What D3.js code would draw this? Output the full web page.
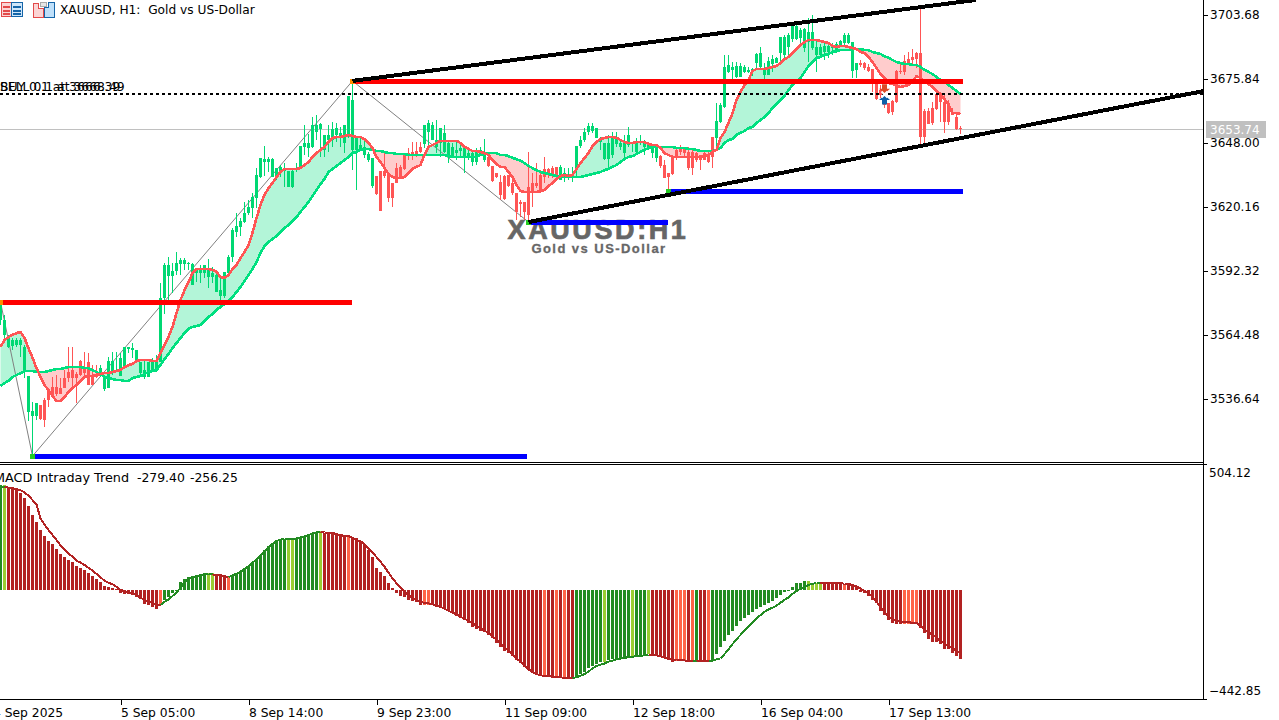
<!DOCTYPE html>
<html>
<head>
<meta charset="utf-8">
<script src="https://cdnjs.cloudflare.com/ajax/libs/d3/7.8.5/d3.min.js"></script>
<style>
html,body{margin:0;padding:0;background:#fff;overflow:hidden}
svg{display:block}
text{font-family:"DejaVu Sans",sans-serif;font-size:12.2px;fill:#000}
</style>
</head>
<body>
<svg id="c" width="1279" height="720"></svg>
<script>
const priceTicks=[3703.68,3675.84,3648.00,3620.16,3592.32,3564.48,3536.64];
const macdTicks=[504.12,-442.85];
const timeTickBars=[-2,30,62,94,126,158,190,222];
const timeTickLabels=["4 Sep 2025","5 Sep 05:00","8 Sep 14:00","9 Sep 23:00","11 Sep 09:00","12 Sep 18:00","16 Sep 04:00","17 Sep 13:00"];

const highs=[3578.8,3573.2,3564.5,3563.2,3563.2,3563.2,3560.1,3546.6,3535.3,3534.9,
3534.0,3537.1,3541.4,3546.2,3547.1,3545.8,3549.2,3559.3,3559.3,3548.4,
3553.6,3557.1,3556.7,3551.4,3551.4,3551.4,3546.6,3554.9,3557.1,3557.1,
3556.7,3559.3,3559.3,3561.0,3558.0,3552.7,3553.6,3552.7,3554.5,3555.8,
3587.1,3595.8,3598.4,3595.8,3600.6,3598.0,3598.0,3596.2,3595.8,3593.6,
3594.9,3594.9,3597.5,3594.1,3592.8,3589.3,3591.9,3599.3,3611.0,3617.5,
3615.4,3622.3,3623.2,3626.2,3637.1,3641.5,3646.7,3641.9,3641.5,3637.1,
3638.4,3639.3,3635.8,3637.1,3639.3,3646.7,3655.8,3651.9,3659.3,3660.2,
3656.7,3651.5,3655.8,3657.1,3656.7,3655.0,3655.8,3668.4,3675.0,3650.6,
3650.2,3650.2,3644.1,3641.5,3633.6,3635.8,3643.6,3634.5,3630.6,3639.3,
3638.4,3643.2,3645.8,3648.4,3648.4,3648.4,3655.8,3658.0,3657.1,3658.0,
3654.5,3655.8,3648.4,3648.0,3648.4,3648.4,3647.1,3645.8,3645.0,3645.8,
3646.3,3649.7,3642.8,3638.0,3634.9,3634.1,3634.1,3634.1,3634.1,3626.2,
3623.2,3622.3,3644.1,3634.9,3639.3,3636.2,3641.9,3637.1,3638.0,3637.6,
3638.4,3637.1,3637.1,3637.6,3646.7,3651.0,3654.5,3656.7,3656.7,3654.5,
3650.6,3648.0,3651.5,3652.8,3652.8,3649.3,3651.5,3655.0,3648.4,3650.2,
3651.5,3649.3,3648.4,3646.3,3646.3,3642.8,3640.6,3634.9,3642.8,3645.8,
3647.1,3645.8,3646.3,3645.0,3644.1,3642.8,3645.0,3645.0,3650.6,3665.4,
3665.4,3686.3,3686.3,3683.2,3683.2,3682.8,3681.9,3681.1,3680.6,3687.1,
3689.8,3682.8,3685.4,3686.3,3685.4,3694.1,3695.0,3695.8,3698.9,3699.3,
3698.0,3698.0,3702.4,3703.7,3692.8,3691.1,3691.5,3691.1,3691.5,3691.9,
3692.8,3695.8,3695.8,3691.9,3682.8,3684.1,3683.2,3682.4,3680.2,3673.7,
3673.2,3668.9,3665.4,3666.7,3679.8,3682.8,3686.3,3687.6,3688.9,3687.6,
3707.2,3662.8,3663.2,3665.8,3670.2,3670.2,3668.9,3666.7,3663.2,3661.0,
3655.4];

const lows=[3568.8,3562.3,3558.8,3558.0,3559.3,3554.9,3545.8,3527.1,3511.8,3527.5,
3527.5,3524.5,3533.2,3538.4,3537.9,3538.8,3541.4,3544.0,3542.3,3534.9,
3546.6,3546.6,3542.7,3542.7,3545.8,3546.2,3540.1,3541.4,3547.1,3548.4,
3546.6,3550.5,3556.7,3554.5,3552.7,3546.6,3545.3,3546.2,3548.4,3548.4,
3552.7,3573.6,3579.7,3582.7,3590.6,3590.6,3592.8,3592.8,3586.2,3587.5,
3587.1,3589.3,3584.9,3587.1,3583.2,3579.7,3580.6,3589.7,3596.2,3607.1,
3607.5,3613.2,3616.7,3615.4,3619.7,3632.8,3633.6,3635.4,3633.2,3631.9,
3633.2,3628.9,3628.9,3628.4,3635.4,3637.1,3642.8,3641.9,3645.8,3649.3,
3641.9,3641.9,3644.1,3646.3,3648.4,3646.3,3643.6,3650.2,3636.2,3627.6,
3645.0,3641.5,3639.7,3628.4,3625.4,3618.4,3632.8,3622.3,3620.2,3630.6,
3632.8,3636.2,3640.6,3640.6,3641.9,3643.6,3645.8,3646.3,3649.3,3643.6,
3641.9,3643.6,3639.3,3641.5,3640.6,3641.5,3634.9,3640.6,3638.0,3638.4,
3642.8,3639.7,3637.6,3631.0,3632.8,3623.2,3623.2,3628.9,3625.4,3614.5,
3615.8,3614.5,3613.6,3620.2,3628.4,3626.2,3630.6,3632.8,3632.8,3632.8,
3631.9,3631.0,3631.9,3631.0,3633.2,3645.8,3648.4,3651.5,3652.4,3650.2,
3645.0,3640.6,3637.1,3641.5,3646.3,3645.0,3641.5,3646.3,3644.1,3643.6,
3647.1,3642.8,3645.0,3641.5,3639.7,3637.1,3632.8,3627.1,3634.1,3640.6,
3642.8,3641.5,3636.2,3634.1,3639.7,3636.2,3640.6,3639.3,3637.1,3646.3,
3656.7,3663.2,3678.4,3675.4,3676.3,3676.7,3678.4,3678.4,3677.1,3680.6,
3680.6,3675.4,3677.6,3678.9,3682.8,3683.2,3684.1,3685.8,3691.9,3692.8,
3690.6,3687.6,3683.2,3688.4,3678.9,3685.4,3684.1,3685.0,3686.3,3687.1,
3689.8,3690.6,3691.1,3676.3,3676.3,3681.1,3679.8,3678.9,3670.2,3666.7,
3667.6,3663.2,3660.6,3660.2,3665.4,3678.0,3677.6,3682.4,3682.4,3680.6,
3647.1,3648.0,3656.3,3655.8,3662.4,3657.1,3652.4,3655.8,3660.2,3653.7,
3651.9];

const bodyTops=[3578.4,3571.0,3563.2,3562.3,3562.3,3562.3,3559.3,3546.6,3531.4,3534.9,
3534.0,3536.2,3540.5,3541.8,3541.8,3541.4,3545.8,3548.4,3549.2,3547.5,
3553.2,3550.1,3552.7,3546.2,3547.1,3550.1,3546.6,3553.2,3553.2,3549.2,
3554.5,3559.3,3559.3,3558.8,3558.0,3552.7,3549.2,3552.7,3552.7,3553.6,
3580.6,3594.9,3594.9,3592.3,3595.8,3597.1,3597.1,3595.8,3595.4,3593.6,
3593.2,3594.9,3593.6,3591.4,3590.6,3584.0,3591.9,3598.4,3610.2,3611.9,
3614.1,3617.5,3620.2,3624.5,3634.1,3641.5,3641.0,3641.0,3641.0,3637.1,
3637.6,3636.7,3635.8,3635.8,3637.1,3646.7,3648.0,3648.0,3655.8,3655.8,
3656.3,3651.5,3651.5,3654.1,3654.5,3652.4,3655.8,3668.4,3666.7,3650.6,
3647.1,3646.3,3643.2,3641.5,3633.6,3635.8,3635.8,3634.5,3630.6,3637.1,
3637.6,3643.2,3643.6,3644.1,3644.5,3646.3,3655.8,3656.7,3655.8,3649.3,
3654.5,3652.4,3648.0,3646.3,3645.0,3645.8,3645.8,3643.6,3643.6,3645.0,
3645.0,3642.8,3641.9,3638.0,3634.9,3631.0,3633.6,3634.1,3630.6,3626.2,
3622.3,3622.3,3628.9,3630.6,3630.6,3634.1,3636.7,3636.7,3637.1,3637.6,
3637.6,3634.9,3634.1,3634.1,3646.7,3649.3,3652.8,3655.4,3655.4,3654.5,
3650.2,3648.0,3648.0,3650.6,3650.6,3648.0,3648.4,3651.5,3648.4,3648.4,
3648.4,3648.9,3648.0,3646.3,3646.3,3642.3,3638.4,3634.9,3641.9,3645.0,
3645.8,3645.4,3644.1,3644.1,3643.6,3642.8,3643.6,3642.8,3650.6,3657.6,
3664.5,3681.1,3681.9,3681.1,3681.5,3681.5,3681.1,3679.8,3680.2,3686.7,
3687.1,3680.6,3683.7,3684.5,3685.0,3694.1,3694.1,3695.0,3698.9,3698.9,
3697.2,3697.6,3696.3,3696.3,3689.8,3689.8,3690.2,3690.2,3690.2,3691.1,
3692.4,3695.0,3695.0,3691.9,3682.8,3682.8,3682.8,3681.1,3680.2,3673.7,
3671.0,3665.4,3665.4,3666.3,3679.3,3679.3,3683.7,3684.5,3685.4,3687.1,
3687.1,3661.9,3661.9,3663.2,3669.3,3669.7,3665.8,3665.4,3661.0,3659.3,
3654.5];

const bodyBottoms=[3571.0,3564.5,3559.3,3559.7,3560.1,3560.1,3548.4,3531.0,3529.2,3529.2,
3527.9,3527.5,3536.2,3538.4,3538.8,3538.8,3541.4,3545.8,3545.8,3545.8,
3547.1,3547.9,3542.7,3542.7,3546.2,3548.4,3541.0,3541.4,3548.4,3548.4,
3546.6,3550.5,3558.4,3558.0,3552.7,3547.9,3546.2,3546.2,3548.4,3549.2,
3552.7,3580.6,3590.1,3590.1,3592.3,3595.4,3595.4,3595.4,3586.2,3591.4,
3591.4,3591.4,3589.7,3589.7,3583.2,3581.4,3581.4,3591.4,3598.4,3609.3,
3611.5,3613.6,3617.5,3619.7,3624.1,3633.2,3639.7,3639.7,3633.2,3633.6,
3635.4,3635.8,3628.9,3628.9,3636.2,3637.6,3646.3,3645.8,3646.3,3652.8,
3654.1,3645.0,3649.3,3649.3,3651.5,3650.2,3648.0,3651.5,3645.0,3645.0,
3645.4,3642.8,3640.6,3629.3,3625.8,3618.4,3633.6,3624.1,3624.1,3630.6,
3632.8,3636.7,3642.8,3642.8,3642.8,3644.1,3647.6,3652.8,3649.3,3646.3,
3648.0,3644.1,3642.8,3641.9,3643.6,3644.5,3641.9,3641.9,3639.7,3639.7,
3643.2,3640.6,3638.0,3631.5,3633.2,3625.4,3623.6,3629.3,3626.2,3618.0,
3621.5,3618.0,3616.7,3626.7,3629.3,3626.7,3633.2,3634.1,3634.1,3634.1,
3631.9,3632.8,3632.8,3633.2,3636.2,3646.7,3649.3,3652.8,3653.2,3650.2,
3648.4,3641.0,3641.0,3642.8,3647.6,3646.3,3643.6,3647.1,3647.6,3644.1,
3648.0,3646.3,3646.3,3643.6,3641.5,3638.0,3632.8,3633.2,3634.5,3641.9,
3644.1,3643.6,3637.1,3637.1,3640.6,3640.6,3640.6,3639.7,3641.9,3650.2,
3657.1,3663.7,3678.9,3679.8,3676.7,3676.7,3678.9,3678.9,3679.3,3682.8,
3681.1,3677.6,3677.6,3682.4,3682.8,3687.1,3686.3,3689.8,3693.2,3693.2,
3693.7,3689.3,3691.9,3689.3,3686.3,3686.3,3687.6,3687.6,3689.3,3688.4,
3690.6,3691.5,3691.5,3679.3,3679.8,3681.9,3680.6,3679.3,3674.1,3667.1,
3668.9,3664.5,3661.0,3661.5,3665.8,3678.9,3678.9,3682.8,3684.1,3684.5,
3650.6,3650.6,3656.3,3656.7,3662.8,3665.8,3657.1,3657.1,3660.2,3654.1,
3654.1];

const fastMA=[3559.3,3562.3,3563.6,3564.5,3565.3,3565.8,3563.2,3558.8,3554.5,3550.1,
3546.2,3542.7,3540.5,3537.9,3535.8,3535.8,3537.5,3539.7,3541.4,3542.7,
3544.5,3546.2,3546.6,3546.6,3547.1,3547.5,3547.9,3547.9,3548.4,3548.8,
3549.2,3550.5,3551.4,3551.9,3553.2,3553.6,3553.6,3553.6,3553.2,3553.2,
3556.7,3560.1,3563.6,3568.0,3574.0,3579.7,3584.0,3587.5,3591.4,3593.2,
3593.2,3593.2,3593.2,3592.8,3591.9,3589.7,3589.3,3590.6,3593.2,3594.9,
3598.0,3600.6,3603.6,3608.9,3615.4,3621.0,3625.4,3628.4,3630.6,3633.2,
3635.4,3636.7,3636.7,3636.7,3636.7,3637.1,3638.4,3639.7,3641.9,3643.6,
3645.0,3646.3,3648.4,3650.2,3650.6,3650.6,3651.0,3651.5,3651.0,3650.6,
3650.6,3649.7,3648.0,3645.8,3641.9,3639.7,3637.1,3634.5,3633.2,3632.8,
3632.8,3633.2,3634.9,3636.7,3637.6,3638.4,3642.8,3646.3,3647.1,3648.0,
3648.9,3648.9,3648.9,3648.9,3648.9,3648.0,3646.3,3645.4,3644.5,3644.5,
3644.1,3643.6,3642.8,3640.6,3638.9,3637.6,3637.6,3635.4,3633.2,3629.7,
3627.1,3626.7,3626.7,3626.7,3626.7,3627.1,3627.6,3629.3,3630.6,3632.3,
3633.6,3634.1,3633.6,3634.1,3636.7,3639.3,3641.5,3643.6,3646.7,3648.4,
3649.7,3650.2,3650.6,3650.6,3650.2,3649.3,3648.4,3648.0,3648.0,3648.4,
3648.4,3648.4,3647.6,3647.1,3647.1,3645.8,3643.6,3642.8,3641.9,3641.9,
3641.9,3641.9,3641.9,3641.9,3641.9,3641.9,3642.3,3642.8,3644.1,3645.0,
3650.2,3652.8,3656.7,3661.0,3666.7,3670.2,3673.2,3675.4,3679.3,3680.2,
3680.2,3680.2,3680.6,3681.1,3681.5,3682.8,3684.5,3685.4,3687.1,3688.9,
3690.6,3691.9,3692.8,3692.8,3692.8,3692.4,3691.9,3691.5,3690.2,3689.8,
3690.2,3690.2,3689.8,3689.3,3688.9,3687.6,3687.1,3685.4,3683.2,3680.6,
3678.0,3676.3,3674.1,3673.7,3672.8,3672.4,3672.8,3673.2,3674.5,3677.1,
3676.3,3674.5,3673.7,3672.4,3670.6,3668.9,3667.1,3664.5,3661.0,3661.0,
3660.6];

const slowMA=[3542.3,3543.6,3544.5,3546.2,3547.1,3547.9,3548.8,3548.8,3548.8,3548.4,
3548.4,3548.4,3548.8,3549.2,3549.7,3549.7,3550.1,3550.5,3550.5,3550.5,
3550.5,3550.1,3550.1,3549.2,3548.4,3547.5,3546.2,3545.8,3545.3,3544.9,
3544.9,3544.5,3544.5,3545.8,3546.2,3546.6,3547.5,3548.4,3548.8,3549.2,
3551.4,3554.0,3556.2,3558.8,3561.0,3563.2,3565.3,3567.1,3568.0,3568.4,
3568.8,3570.6,3572.3,3573.6,3575.4,3576.7,3578.0,3579.3,3581.0,3583.2,
3585.4,3588.0,3590.6,3593.2,3596.2,3600.1,3603.2,3604.9,3606.2,3607.5,
3609.3,3611.0,3612.3,3614.1,3615.8,3618.0,3620.2,3622.3,3625.0,3627.6,
3630.2,3632.3,3635.4,3636.7,3638.0,3639.3,3640.6,3641.9,3643.6,3644.1,
3645.0,3645.4,3645.4,3645.0,3644.5,3644.5,3644.1,3643.6,3643.6,3643.2,
3643.2,3643.2,3642.8,3642.8,3642.8,3642.8,3642.8,3642.8,3642.8,3642.8,
3642.8,3642.8,3642.3,3641.9,3641.9,3641.9,3641.9,3641.9,3641.9,3641.9,
3642.8,3643.2,3643.6,3643.6,3643.6,3642.8,3642.8,3642.3,3641.5,3641.0,
3640.2,3639.3,3638.0,3637.1,3636.2,3635.4,3634.9,3634.5,3634.1,3633.6,
3633.6,3633.2,3633.2,3633.2,3633.2,3633.2,3633.6,3634.1,3634.5,3634.9,
3635.4,3636.2,3636.7,3637.6,3638.4,3639.7,3641.0,3641.9,3642.3,3643.2,
3644.1,3645.0,3645.8,3646.3,3646.3,3646.3,3646.3,3646.3,3646.3,3645.8,
3645.8,3645.8,3645.4,3645.4,3645.0,3644.5,3644.5,3644.5,3644.5,3645.0,
3645.8,3648.0,3649.3,3649.7,3651.5,3652.4,3653.2,3654.5,3655.0,3656.7,
3658.0,3659.3,3661.0,3663.2,3665.0,3666.7,3668.4,3671.0,3673.2,3674.5,
3676.3,3678.9,3681.5,3683.2,3685.0,3685.4,3686.3,3686.7,3687.6,3688.0,
3688.4,3688.4,3688.4,3688.9,3688.9,3688.9,3688.4,3688.4,3687.6,3687.1,
3686.7,3685.8,3685.0,3684.1,3683.2,3682.8,3682.4,3682.4,3681.9,3681.9,
3681.1,3679.8,3678.9,3678.0,3676.7,3675.4,3674.5,3673.2,3671.9,3670.6,
3669.3];

const macdHist=[456,456,447,445,439,421,398,363,326,294,
262,236,213,198,177,158,145,132,120,104,
94,85,72,62,48,36,17,12,7,4,
-14,-19,-19,-23,-30,-41,-59,-65,-72,-84,
-65,-43,-29,-12,-3,36,48,56,59,65,
68,72,75,72,65,64,64,55,65,72,
80,94,106,119,130,152,174,193,203,210,
217,222,224,224,227,232,236,242,246,253,
256,250,250,248,243,239,235,230,230,226,
212,195,174,143,96,77,61,32,7,-12,
-25,-32,-43,-48,-54,-64,-64,-64,-67,-72,
-77,-84,-91,-98,-113,-123,-130,-145,-159,-169,
-177,-184,-195,-210,-232,-249,-264,-275,-285,-304,
-319,-336,-348,-359,-365,-369,-376,-379,-381,-382,
-382,-379,-379,-388,-384,-366,-355,-340,-330,-321,
-313,-311,-304,-301,-298,-295,-294,-290,-288,-284,
-282,-282,-279,-282,-284,-290,-297,-304,-313,-308,
-308,-308,-313,-308,-308,-310,-310,-308,-304,-279,
-249,-222,-197,-177,-156,-136,-123,-109,-94,-83,
-72,-65,-58,-46,-36,-22,-10,-3,14,29,
29,38,38,32,32,32,33,33,33,33,
32,26,26,22,14,-9,-14,-26,-43,-55,
-90,-109,-130,-145,-148,-148,-149,-149,-145,-145,
-167,-188,-211,-224,-227,-235,-255,-258,-272,-285,
-298];

const macdLine=[447,447,445,442,439,434,424,410,391,372,
311,285,261,239,217,195,178,159,145,127,
120,109,97,84,70,55,41,32,25,14,
0,-4,-10,-14,-22,-33,-43,-51,-55,-65,
-65,-51,-41,-26,-10,10,33,48,55,61,
65,68,70,68,65,64,61,55,64,71,
80,91,104,119,133,149,167,185,201,213,
219,222,222,222,224,229,233,239,246,250,
252,250,250,248,243,239,235,235,226,217,
213,200,182,165,143,123,101,75,51,29,
12,-7,-22,-33,-43,-51,-56,-58,-62,-65,
-72,-81,-90,-98,-106,-116,-125,-133,-145,-155,
-167,-177,-185,-203,-214,-232,-249,-264,-278,-297,
-311,-329,-345,-355,-365,-369,-374,-375,-376,-378,
-379,-381,-384,-382,-379,-372,-365,-355,-340,-330,
-324,-319,-311,-307,-301,-298,-295,-291,-290,-287,
-285,-284,-282,-282,-284,-287,-294,-300,-303,-304,
-304,-306,-308,-308,-308,-307,-307,-307,-307,-301,
-297,-278,-258,-235,-214,-195,-177,-159,-142,-123,
-109,-94,-84,-77,-68,-55,-43,-32,-17,-4,
6,14,22,28,29,29,30,30,30,29,
29,28,26,22,16,7,-4,-14,-29,-51,
-72,-94,-116,-127,-133,-137,-139,-140,-142,-143,
-155,-174,-181,-195,-206,-222,-232,-243,-253,-264,
-275];

const macdStateRuns=[["G",1],["g",1],["R",38],["r",1],["G",11],["g",2],["R",3],["r",1],["G",14],["g",2],["G",6],["g",1],
["R",6],["r",1],["R",18],["r",2],["R",28],["r",1],["R",2],["r",1],["R",1],["r",1],["R",2],
["G",7],["g",1],["G",6],["g",1],["G",3],["g",1],["R",6],["r",3],["R",1],["r",1],["G",1],["R",2],["r",1],
["G",24],["g",4],["R",5],["r",1],["R",14],["r",4],["R",11]];
const macdStates=macdStateRuns.flatMap(([s,n])=>Array(n).fill(s));

const supportResist=[
 {from:0,to:87.75,price:3578.8,color:"#ff0000"},
 {from:8,to:131.5,price:3511.8,color:"#0000ff"},
 {from:88,to:240.5,price:3675.0,color:"#ff0000"},
 {from:132,to:166.75,price:3613.6,color:"#0000ff"},
 {from:167,to:240.5,price:3627.1,color:"#0000ff"}];
const trendLines=[
 {a:88,pa:3675.0,b:243.75,pb:3710.2},
 {a:132,pa:3613.6,b:300.75,pb:3670.6}];
const zigzagBars=[0,8,88,132];
const zigzagPrices=[3578.8,3511.8,3675.0,3613.6];
const zigzagDots=[{i:0,p:3578.8,c:"#ff8c00"},{i:8,p:3511.8,c:"#22cc22"},{i:88,p:3675.0,c:"#ff8c00"},{i:132,p:3613.6,c:"#22cc22"},{i:167,p:3627.1,c:"#22cc22"}];
const orderPrice=3669.1, lastPrice=3653.74;
const tradeArrows=[{i:221,p:3671.6,dir:-1,c:"#dc4a26"},{i:221,p:3666.7,dir:1,c:"#1060a8"}];
const tradeLabels=["SELL 0.1 at 3668.49","BUY 0.1 at 3666.39"];

const colors={candleUp:"#00d873",candleDn:"#ff5555",fillUp:"#b3f5d8",fillDn:"#ffcccc",fast:"#ff5555",slow:"#00e080",
 G:"#228b22",g:"#9acd32",R:"#b22222",r:"#ff6347"};

const svg=d3.select("#c");
const W=1203;
const x=d3.scaleLinear().domain([0,240]).range([0.5,960.5]);
const yP=d3.scaleLinear().domain([3710.2,3510.1]).range([0,460]);
const yM=d3.scaleLinear().domain([-442.85,504.12]).range([692,474]);

const defs=svg.append("defs");
defs.append("clipPath").attr("id","mainClip").append("rect").attr("x",0).attr("y",0).attr("width",W).attr("height",461);
defs.append("clipPath").attr("id","macdClip").append("rect").attr("x",0).attr("y",465).attr("width",W).attr("height",234);

const main=svg.append("g").attr("clip-path","url(#mainClip)");
const idx=d3.range(highs.length);

// watermark
main.append("text").attr("x",598).attr("y",239).attr("text-anchor","middle")
 .style("font-family","'Liberation Sans',Arial,sans-serif").style("font-weight","bold").style("font-size","27px").style("letter-spacing","2.6px")
 .style("fill","#666").style("stroke","#666").style("stroke-width","0.7px").text("XAUUSD:H1");
main.append("text").attr("x",599).attr("y",253).attr("text-anchor","middle")
 .style("font-family","'Liberation Sans',Arial,sans-serif").style("font-weight","bold").style("font-size","13px").style("letter-spacing","1.45px")
 .style("fill","#666").style("stroke","#666").style("stroke-width","0.3px").text("Gold vs US-Dollar");

// price line
main.append("line").attr("x1",0).attr("x2",W).attr("y1",yP(lastPrice)).attr("y2",yP(lastPrice)).attr("stroke","#c0c0c0").attr("shape-rendering","crispEdges");

// cloud
const areaUp=d3.area().x(i=>x(i)).y0(i=>yP(slowMA[i])).y1(i=>yP(Math.max(fastMA[i],slowMA[i])));
const areaDn=d3.area().x(i=>x(i)).y0(i=>yP(slowMA[i])).y1(i=>yP(Math.min(fastMA[i],slowMA[i])));
main.append("path").attr("d",areaUp(idx)).attr("fill",colors.fillUp);
main.append("path").attr("d",areaDn(idx)).attr("fill",colors.fillDn);

// zigzag
const zz=d3.line().x((d,k)=>x(zigzagBars[k])).y((d,k)=>yP(zigzagPrices[k]));
main.append("path").attr("d",zz(zigzagBars)).attr("fill","none").attr("stroke","#808080").attr("stroke-width",1);

// candles
const cc=i=>fastMA[i]>=slowMA[i]?colors.candleUp:colors.candleDn;
const candles=main.append("g").attr("shape-rendering","crispEdges");
candles.selectAll("rect.w").data(idx).join("rect").attr("class","w")
 .attr("x",i=>x(i)-0.5).attr("width",1).attr("y",i=>yP(highs[i])).attr("height",i=>Math.max(1,yP(lows[i])-yP(highs[i]))).attr("fill",cc);
candles.selectAll("rect.b").data(idx).join("rect").attr("class","b")
 .attr("x",i=>x(i)-1.5).attr("width",3).attr("y",i=>yP(bodyTops[i])).attr("height",i=>Math.max(1,yP(bodyBottoms[i])-yP(bodyTops[i]))).attr("fill",cc);

// MAs
const ln=arr=>d3.line().x(i=>x(i)).y(i=>yP(arr[i]));
main.append("path").attr("d",ln(slowMA)(idx)).attr("fill","none").attr("stroke",colors.slow).attr("stroke-width",2.6).attr("shape-rendering","crispEdges");
main.append("path").attr("d",ln(fastMA)(idx)).attr("fill","none").attr("stroke",colors.fast).attr("stroke-width",2.6).attr("shape-rendering","crispEdges");

// levels
main.selectAll("rect.lvl").data(supportResist).join("rect").attr("class","lvl")
 .attr("x",d=>x(d.from)).attr("width",d=>x(d.to)-x(d.from)).attr("y",d=>Math.round(yP(d.price))-2).attr("height",5).attr("fill",d=>d.color).attr("shape-rendering","crispEdges");

// dots
main.selectAll("rect.dot").data(zigzagDots).join("rect").attr("class","dot")
 .attr("x",d=>x(d.i)-2.5).attr("y",d=>Math.round(yP(d.p))-2).attr("width",5).attr("height",5).attr("fill",d=>d.c).attr("shape-rendering","crispEdges");

// order line
main.append("line").attr("x1",0).attr("x2",W).attr("y1",yP(orderPrice)).attr("y2",yP(orderPrice)).attr("stroke","#000").attr("stroke-width",2).attr("stroke-dasharray","3 3").attr("shape-rendering","crispEdges");

// trend lines
main.selectAll("line.tr").data(trendLines).join("line").attr("class","tr")
 .attr("x1",d=>x(d.a)).attr("y1",d=>yP(d.pa)).attr("x2",d=>x(d.b)).attr("y2",d=>yP(d.pb)).attr("stroke","#000").attr("stroke-width",4).attr("shape-rendering","crispEdges");

// trade arrows
const arrowPath=(d)=>{const X=x(d.i),Y=yP(d.p),s=-d.dir;
 return `M${X-2.5},${Y-4.5*s}H${X+2.5}V${Y}H${X+5.5}L${X},${Y+5*s}L${X-5.5},${Y}H${X-2.5}Z`;};
main.selectAll("path.arr").data(tradeArrows).join("path").attr("class","arr").attr("d",arrowPath).attr("fill",d=>d.c);
const mk={X:x(221),Y:yP(orderPrice)};
main.append("path").attr("d",`M${mk.X-3},${mk.Y-3}L${mk.X+3},${mk.Y+3}M${mk.X+3},${mk.Y-3}L${mk.X-3},${mk.Y+3}`).attr("stroke","#fff").attr("stroke-width",2);

// overlapped trade labels
tradeLabels.forEach(t=>{
 main.append("text").attr("x",0).attr("y",91).style("font-size","12.4px").text(t);
});

// header
const icon=svg.append("g").attr("shape-rendering","crispEdges");
icon.append("rect").attr("x",1.5).attr("y",2.5).attr("width",10).attr("height",14).attr("fill","#fbd5d5").attr("stroke","#e24a4a");
icon.append("rect").attr("x",11.5).attr("y",2.5).attr("width",11).attr("height",14).attr("fill","#cfe6fa").attr("stroke","#1565a8");
[6,10,13].forEach(v=>{
 icon.append("rect").attr("x",3).attr("y",v).attr("width",7).attr("height",1.5).attr("fill","#e24a4a");
 icon.append("rect").attr("x",13).attr("y",v).attr("width",8).attr("height",1.5).attr("fill","#1565a8");
});
icon.append("path").attr("d","M33.5,3.5H38.5V8.5H43.5V17.5H33.5Z").attr("fill","#fbd5d5").attr("stroke","#e24a4a");
icon.append("path").attr("d","M44.5,7.5H48.5V2.5H54.5V17.5H44.5Z").attr("fill","#bfe0fa").attr("stroke","#1565a8");
icon.append("rect").attr("x",40.5).attr("y",2.5).attr("width",6).attr("height",4).attr("fill","#e6e6e6").attr("stroke","#aaa");
svg.append("text").attr("x",60).attr("y",14).text("XAUUSD, H1:  Gold vs US-Dollar").style("white-space","pre");

// MACD
const macdG=svg.append("g").attr("clip-path","url(#macdClip)");
macdG.append("g").attr("shape-rendering","crispEdges").selectAll("rect").data(idx).join("rect")
 .attr("x",i=>x(i)-1.5).attr("width",3)
 .attr("y",i=>yM(Math.max(macdHist[i],0))).attr("height",i=>Math.max(1,Math.abs(yM(macdHist[i])-yM(0))))
 .attr("fill",i=>colors[macdStates[i]]);
const seg=d3.line().x(i=>x(i)).y(i=>yM(macdLine[i]));
macdG.append("g").selectAll("path").data(idx.slice(1)).join("path")
 .attr("d",i=>seg([i-1,i])).attr("fill","none").attr("stroke-width",2).attr("shape-rendering","crispEdges")
 .attr("stroke",i=>(macdStates[i]==="G"||macdStates[i]==="g")?colors.G:colors.R);
svg.append("text").attr("x",-6).attr("y",482).style("font-size","12.8px").text("MACD Intraday Trend");
svg.append("text").attr("x",137).attr("y",482).style("font-size","12.4px").text("-279.40");
svg.append("text").attr("x",190).attr("y",482).style("font-size","12.4px").text("-256.25");

// pane frames
const frame=svg.append("g").attr("stroke","#000").attr("shape-rendering","crispEdges");
frame.append("line").attr("x1",0).attr("x2",1204).attr("y1",462.5).attr("y2",462.5);
frame.append("line").attr("x1",0).attr("x2",1207).attr("y1",464.5).attr("y2",464.5);
frame.append("line").attr("x1",1203.5).attr("x2",1203.5).attr("y1",0).attr("y2",700);
frame.append("line").attr("x1",0).attr("x2",1207).attr("y1",699.5).attr("y2",699.5);

// axes
const axisStyle=g=>{g.select(".domain").remove();g.selectAll("line").attr("stroke","#000").attr("shape-rendering","crispEdges");g.selectAll("text").style("fill","#000").style("font-family",'"DejaVu Sans",sans-serif').style("font-size","12px");};
svg.append("g").attr("transform","translate(1203.5,0)")
 .call(d3.axisRight(yP).tickValues(priceTicks).tickSize(4).tickPadding(2.5).tickFormat(d3.format(".2f"))).call(axisStyle);
svg.append("g").attr("transform","translate(1203.5,-1)")
 .call(d3.axisRight(yM).tickValues(macdTicks).tickSize(0).tickPadding(5.5).tickFormat(d=>d3.format(".2f")(d))).call(axisStyle);
const byBar=new Map(timeTickBars.map((b,k)=>[b,timeTickLabels[k]]));
svg.append("g").attr("transform","translate(0,699.5)")
 .call(d3.axisBottom(x).tickValues(timeTickBars).tickSize(5).tickPadding(4).tickFormat(b=>byBar.get(b))).call(axisStyle)
 .call(g=>g.selectAll("text").attr("text-anchor","start").style("font-size","12.3px"));

// last price tag
svg.append("rect").attr("x",1206).attr("y",121).attr("width",60).attr("height",17).attr("fill","#c0c0c0");
svg.append("text").attr("x",1210).attr("y",134).style("fill","#fff").style("font-size","12px").text(d3.format(".2f")(lastPrice));
</script>
</body>
</html>
